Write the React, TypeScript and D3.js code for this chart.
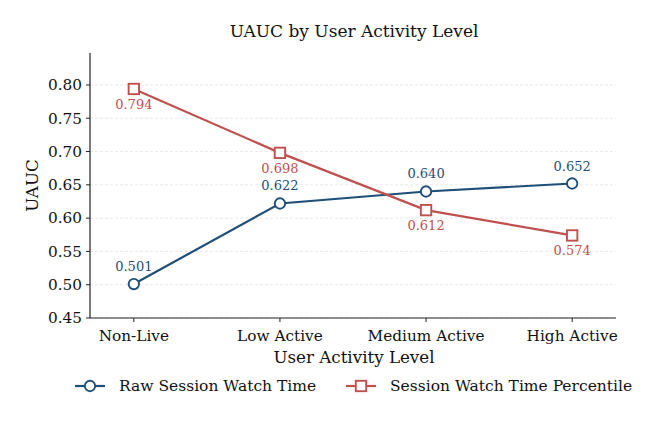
import React from "react";
import * as d3 from "d3";

const categories = ["Non-Live", "Low Active", "Medium Active", "High Active"];
const rawValues = [0.501, 0.622, 0.640, 0.652];
const pctValues = [0.794, 0.698, 0.612, 0.574];
const yTicks = [0.45, 0.5, 0.55, 0.6, 0.65, 0.7, 0.75, 0.8];
const seriesNames = ["Raw Session Watch Time", "Session Watch Time Percentile"];

const BLUE = "#1f4e79";
const RED = "#c0504d";
const FONT = "DejaVu Serif";

export default function App() {
  const W = 663, H = 426;
  const left = 90, right = 616, top = 53, bottom = 318;
  const x = d3.scaleLinear().domain([-0.3, 3.3]).range([left, right]);
  const y = d3.scaleLinear().domain([0.45, 0.848]).range([bottom, top]);
  const line = d3.line<number>().x((_, i) => x(i)).y((d) => y(d));
  const ly = 386;
  const r = 5.2;

  return (
    <svg width={W} height={H} style={{ position: "absolute", left: 0, top: 0 }} fontFamily={FONT}>
      <rect width={W} height={H} fill="#fff" />
      <text x={354} y={37} textAnchor="middle" fontSize={17} fill="#111">UAUC by User Activity Level</text>
      {yTicks.map((t) => (
        <g key={t}>
          <line x1={left} x2={right} y1={y(t)} y2={y(t)} stroke="#e3e3e3" strokeWidth={0.8} strokeDasharray="3,2" />
          <line x1={left - 4} x2={left} y1={y(t)} y2={y(t)} stroke="#222" strokeWidth={1} />
          <text x={left - 8} y={y(t)} dy="0.35em" textAnchor="end" fontSize={15.3} fill="#111">{t.toFixed(2)}</text>
        </g>
      ))}
      {categories.map((c, i) => (
        <g key={c}>
          <line x1={x(i)} x2={x(i)} y1={bottom} y2={bottom + 4} stroke="#222" strokeWidth={1} />
          <text x={x(i)} y={bottom + 23} textAnchor="middle" fontSize={15.3} fill="#111">{c}</text>
        </g>
      ))}
      <line x1={left} x2={left} y1={top} y2={bottom} stroke="#222" strokeWidth={1.2} />
      <line x1={left} x2={right} y1={bottom} y2={bottom} stroke="#222" strokeWidth={1.2} />
      <text x={354} y={363} textAnchor="middle" fontSize={16.7} fill="#111">User Activity Level</text>
      <text transform={`translate(38,${(top + bottom) / 2}) rotate(-90)`} textAnchor="middle" fontSize={16.7} fill="#111">UAUC</text>

      <path d={line(rawValues) || ""} fill="none" stroke={BLUE} strokeWidth={2.2} />
      <path d={line(pctValues) || ""} fill="none" stroke={RED} strokeWidth={2.2} />
      {rawValues.map((v, i) => (
        <g key={"r" + i}>
          <circle cx={x(i)} cy={y(v)} r={r} fill="#fff" stroke={BLUE} strokeWidth={1.9} />
          <text x={x(i)} y={y(v) - 13} textAnchor="middle" fontSize={13} fill={BLUE}>{v.toFixed(3)}</text>
        </g>
      ))}
      {pctValues.map((v, i) => (
        <g key={"p" + i}>
          <rect x={x(i) - r} y={y(v) - r} width={2 * r} height={2 * r} fill="#fff" stroke={RED} strokeWidth={1.9} />
          <text x={x(i)} y={y(v) + 20} textAnchor="middle" fontSize={13} fill={RED}>{v.toFixed(3)}</text>
        </g>
      ))}

      <g>
        <line x1={75} x2={105} y1={ly} y2={ly} stroke={BLUE} strokeWidth={2.2} />
        <circle cx={90} cy={ly} r={r} fill="#fff" stroke={BLUE} strokeWidth={1.9} />
        <text x={119} y={ly} dy="0.35em" fontSize={15.5} fill="#111">{seriesNames[0]}</text>
        <line x1={346} x2={376} y1={ly} y2={ly} stroke={RED} strokeWidth={2.2} />
        <rect x={361 - r} y={ly - r} width={2 * r} height={2 * r} fill="#fff" stroke={RED} strokeWidth={1.9} />
        <text x={390} y={ly} dy="0.35em" fontSize={15.5} fill="#111">{seriesNames[1]}</text>
      </g>
    </svg>
  );
}
